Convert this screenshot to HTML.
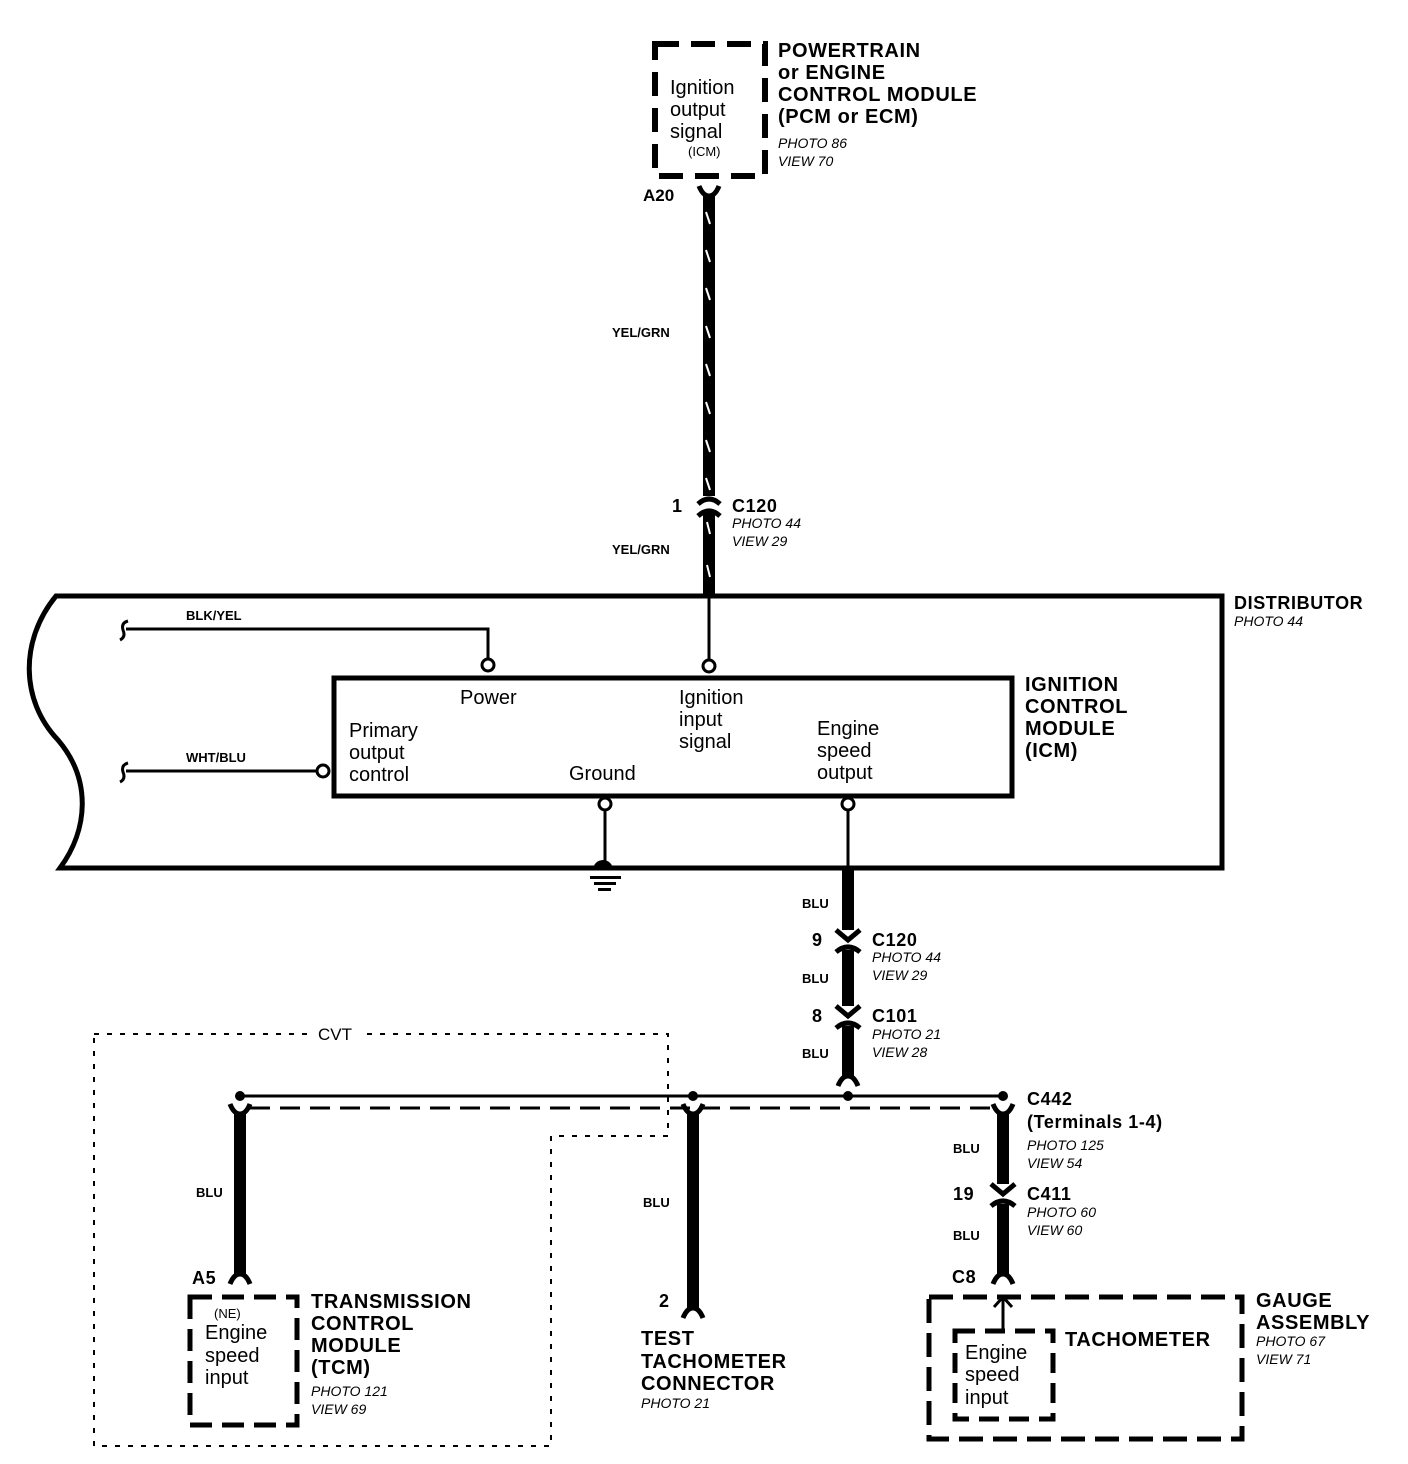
<!DOCTYPE html>
<html><head><meta charset="utf-8"><style>
html,body{margin:0;padding:0;background:#fff;}
svg{display:block;}
text{font-family:"Liberation Sans",Arial,sans-serif;fill:#000;}
.b{font-weight:bold;font-size:20px;letter-spacing:0.6px;}
.i{font-style:italic;font-size:14px;}
.s{font-weight:bold;font-size:13px;}
.n{font-size:20px;}
</style></head><body>
<svg width="1408" height="1464" viewBox="0 0 1408 1464" xmlns="http://www.w3.org/2000/svg">
<!-- PCM box -->
<rect x="655" y="44" width="110" height="132" fill="none" stroke="#000" stroke-width="6" stroke-dasharray="24,12"/>
<text class="n" x="670" y="94">Ignition</text>
<text class="n" x="670" y="116">output</text>
<text class="n" x="670" y="138">signal</text>
<text x="688" y="156" style="font-size:13px">(ICM)</text>
<text class="b" x="778" y="57">POWERTRAIN</text>
<text class="b" x="778" y="79">or ENGINE</text>
<text class="b" x="778" y="101">CONTROL MODULE</text>
<text class="b" x="778" y="123">(PCM or ECM)</text>
<text class="i" x="778" y="148">PHOTO 86</text>
<text class="i" x="778" y="166">VIEW 70</text>
<text class="s" x="643" y="201" style="font-size:17px">A20</text>
<!-- main YEL/GRN wire -->
<path d="M699 186 Q703 196 709 196 Q715 196 719 186" fill="none" stroke="#000" stroke-width="5"/>
<rect x="703" y="194" width="12" height="302" fill="#000"/>
<rect x="703" y="512" width="12" height="84" fill="#000"/>
<g stroke="#fff" stroke-width="2">
<line x1="706" y1="212" x2="710" y2="224"/><line x1="706" y1="250" x2="710" y2="262"/>
<line x1="706" y1="288" x2="710" y2="300"/><line x1="706" y1="326" x2="710" y2="338"/>
<line x1="706" y1="364" x2="710" y2="376"/><line x1="706" y1="402" x2="710" y2="414"/>
<line x1="706" y1="440" x2="710" y2="452"/><line x1="706" y1="478" x2="710" y2="490"/>
<line x1="707" y1="522" x2="710" y2="534"/><line x1="707" y1="565" x2="710" y2="577"/>
</g>
<path d="M698 504 Q709 494 720 504" fill="none" stroke="#000" stroke-width="5"/>
<path d="M698 516 Q709 506 720 516" fill="none" stroke="#000" stroke-width="5"/>
<text class="s" x="612" y="337">YEL/GRN</text>
<text class="s" x="612" y="554">YEL/GRN</text>
<text class="b" x="672" y="512" style="font-size:18px">1</text>
<text class="b" x="732" y="512" style="font-size:18px">C120</text>
<text class="i" x="732" y="528">PHOTO 44</text>
<text class="i" x="732" y="546">VIEW 29</text>
<!-- distributor -->
<path d="M1222 596 L56 596 C20 640 20 700 58 740 C92 780 88 830 60 868 L1222 868 Z" fill="none" stroke="#000" stroke-width="5"/>
<text class="b" x="1234" y="609" style="font-size:18px">DISTRIBUTOR</text>
<text class="i" x="1234" y="626">PHOTO 44</text>
<!-- ICM box -->
<rect x="334" y="678" width="678" height="118" fill="none" stroke="#000" stroke-width="5"/>
<text class="n" x="460" y="704">Power</text>
<text class="n" x="679" y="704">Ignition</text>
<text class="n" x="679" y="726">input</text>
<text class="n" x="679" y="748">signal</text>
<text class="n" x="349" y="737">Primary</text>
<text class="n" x="349" y="759">output</text>
<text class="n" x="349" y="781">control</text>
<text class="n" x="569" y="780">Ground</text>
<text class="n" x="817" y="735">Engine</text>
<text class="n" x="817" y="757">speed</text>
<text class="n" x="817" y="779">output</text>
<text class="b" x="1025" y="691">IGNITION</text>
<text class="b" x="1025" y="713">CONTROL</text>
<text class="b" x="1025" y="735">MODULE</text>
<text class="b" x="1025" y="757">(ICM)</text>
<!-- pins -->
<g fill="#fff" stroke="#000" stroke-width="3">
<circle cx="488" cy="665" r="6"/><circle cx="709" cy="666" r="6"/>
<circle cx="323" cy="771" r="6"/><circle cx="605" cy="804" r="6"/><circle cx="848" cy="804" r="6"/>
</g>
<g stroke="#000" stroke-width="3" fill="none">
<path d="M126 629 L488 629 L488 659"/>
<path d="M709 596 L709 660"/>
<path d="M126 771 L317 771"/>
<path d="M605 810 L605 868"/>
<path d="M848 810 L848 868"/>
<path d="M128 621 Q121 623 123 630 Q126 637 120 640"/>
<path d="M128 763 Q121 765 123 772 Q126 779 120 782"/>
</g>
<text class="s" x="186" y="620">BLK/YEL</text>
<text class="s" x="186" y="762">WHT/BLU</text>
<!-- ground -->
<path d="M593 870 A10 10 0 0 1 613 870 Z" fill="#000"/>
<rect x="590" y="876" width="31" height="3" fill="#000"/>
<rect x="594" y="882" width="22" height="3" fill="#000"/>
<rect x="598" y="888" width="13" height="3" fill="#000"/>
<!-- BLU lower wire -->
<rect x="842" y="868" width="12" height="62" fill="#000"/>
<rect x="842" y="950" width="12" height="56" fill="#000"/>
<rect x="842" y="1026" width="12" height="52" fill="#000"/>
<g fill="none" stroke="#000" stroke-width="5">
<path d="M836 930 L848 940 L860 930"/><path d="M836 952 Q848 942 860 952"/>
<path d="M836 1006 L848 1016 L860 1006"/><path d="M836 1028 Q848 1018 860 1028"/>
<path d="M838 1086 Q842 1076 848 1076 Q854 1076 858 1086"/>
</g>
<text class="s" x="802" y="908">BLU</text>
<text class="s" x="802" y="983">BLU</text>
<text class="s" x="802" y="1058">BLU</text>
<text class="b" x="812" y="946" style="font-size:18px">9</text>
<text class="b" x="872" y="946" style="font-size:18px">C120</text>
<text class="i" x="872" y="962">PHOTO 44</text>
<text class="i" x="872" y="980">VIEW 29</text>
<text class="b" x="812" y="1022" style="font-size:18px">8</text>
<text class="b" x="872" y="1022" style="font-size:18px">C101</text>
<text class="i" x="872" y="1039">PHOTO 21</text>
<text class="i" x="872" y="1057">VIEW 28</text>
<!-- CVT -->
<path d="M94 1034 L668 1034 L668 1136 L551 1136 L551 1446 L94 1446 Z" fill="none" stroke="#000" stroke-width="2" stroke-dasharray="5,8"/>
<rect x="312" y="1024" width="48" height="20" fill="#fff"/>
<text x="318" y="1040" style="font-size:17px">CVT</text>
<!-- bus -->
<line x1="240" y1="1096" x2="1003" y2="1096" stroke="#000" stroke-width="3"/>
<line x1="250" y1="1108" x2="995" y2="1108" stroke="#000" stroke-width="3" stroke-dasharray="20,10"/>
<g fill="#000"><circle cx="240" cy="1096" r="5"/><circle cx="693" cy="1096" r="5"/><circle cx="848" cy="1096" r="5"/><circle cx="1003" cy="1096" r="5"/></g>
<g fill="none" stroke="#000" stroke-width="5">
<path d="M230 1104 Q234 1114 240 1114 Q246 1114 250 1104"/>
<path d="M683 1104 Q687 1114 693 1114 Q699 1114 703 1104"/>
<path d="M993 1104 Q997 1114 1003 1114 Q1009 1114 1013 1104"/>
</g>
<rect x="234" y="1112" width="12" height="162" fill="#000"/>
<path d="M230 1284 Q234 1274 240 1274 Q246 1274 250 1284" fill="none" stroke="#000" stroke-width="5"/>
<rect x="687" y="1112" width="12" height="196" fill="#000"/>
<path d="M683 1318 Q687 1308 693 1308 Q699 1308 703 1318" fill="none" stroke="#000" stroke-width="5"/>
<rect x="997" y="1112" width="12" height="72" fill="#000"/>
<path d="M991 1184 L1003 1194 L1015 1184" fill="none" stroke="#000" stroke-width="5"/>
<path d="M991 1206 Q1003 1196 1015 1206" fill="none" stroke="#000" stroke-width="5"/>
<rect x="997" y="1204" width="12" height="70" fill="#000"/>
<path d="M993 1284 Q997 1274 1003 1274 Q1009 1274 1013 1284" fill="none" stroke="#000" stroke-width="5"/>
<text class="b" x="1027" y="1105" style="font-size:18px">C442</text>
<text class="b" x="1027" y="1128" style="font-size:18px">(Terminals 1-4)</text>
<text class="i" x="1027" y="1150">PHOTO 125</text>
<text class="i" x="1027" y="1168">VIEW 54</text>
<text class="s" x="953" y="1153">BLU</text>
<text class="b" x="953" y="1200" style="font-size:18px">19</text>
<text class="b" x="1027" y="1200" style="font-size:18px">C411</text>
<text class="i" x="1027" y="1217">PHOTO 60</text>
<text class="i" x="1027" y="1235">VIEW 60</text>
<text class="s" x="953" y="1240">BLU</text>
<text class="b" x="952" y="1283" style="font-size:18px">C8</text>
<!-- TCM -->
<rect x="190" y="1297" width="107" height="128" fill="none" stroke="#000" stroke-width="5" stroke-dasharray="22,10"/>
<text x="214" y="1318" style="font-size:13px">(NE)</text>
<text class="n" x="205" y="1339">Engine</text>
<text class="n" x="205" y="1362">speed</text>
<text class="n" x="205" y="1384">input</text>
<text class="b" x="311" y="1308">TRANSMISSION</text>
<text class="b" x="311" y="1330">CONTROL</text>
<text class="b" x="311" y="1352">MODULE</text>
<text class="b" x="311" y="1374">(TCM)</text>
<text class="i" x="311" y="1396">PHOTO 121</text>
<text class="i" x="311" y="1414">VIEW 69</text>
<text class="b" x="192" y="1284" style="font-size:18px">A5</text>
<text class="s" x="196" y="1197">BLU</text>
<!-- test connector -->
<text class="s" x="643" y="1207">BLU</text>
<text class="b" x="659" y="1307" style="font-size:18px">2</text>
<text class="b" x="641" y="1345">TEST</text>
<text class="b" x="641" y="1368">TACHOMETER</text>
<text class="b" x="641" y="1390">CONNECTOR</text>
<text class="i" x="641" y="1408">PHOTO 21</text>
<!-- gauge -->
<rect x="929" y="1297" width="313" height="142" fill="none" stroke="#000" stroke-width="5" stroke-dasharray="24,10"/>
<rect x="955" y="1331" width="98" height="88" fill="none" stroke="#000" stroke-width="5" stroke-dasharray="20,10"/>
<line x1="1003" y1="1331" x2="1003" y2="1298" stroke="#000" stroke-width="3"/>
<path d="M994 1307 L1003 1297 L1012 1307" fill="none" stroke="#000" stroke-width="3"/>
<text class="n" x="965" y="1359">Engine</text>
<text class="n" x="965" y="1381">speed</text>
<text class="n" x="965" y="1404">input</text>
<text class="b" x="1065" y="1346">TACHOMETER</text>
<text class="b" x="1256" y="1307">GAUGE</text>
<text class="b" x="1256" y="1329">ASSEMBLY</text>
<text class="i" x="1256" y="1346">PHOTO 67</text>
<text class="i" x="1256" y="1364">VIEW 71</text>
</svg>
</body></html>
